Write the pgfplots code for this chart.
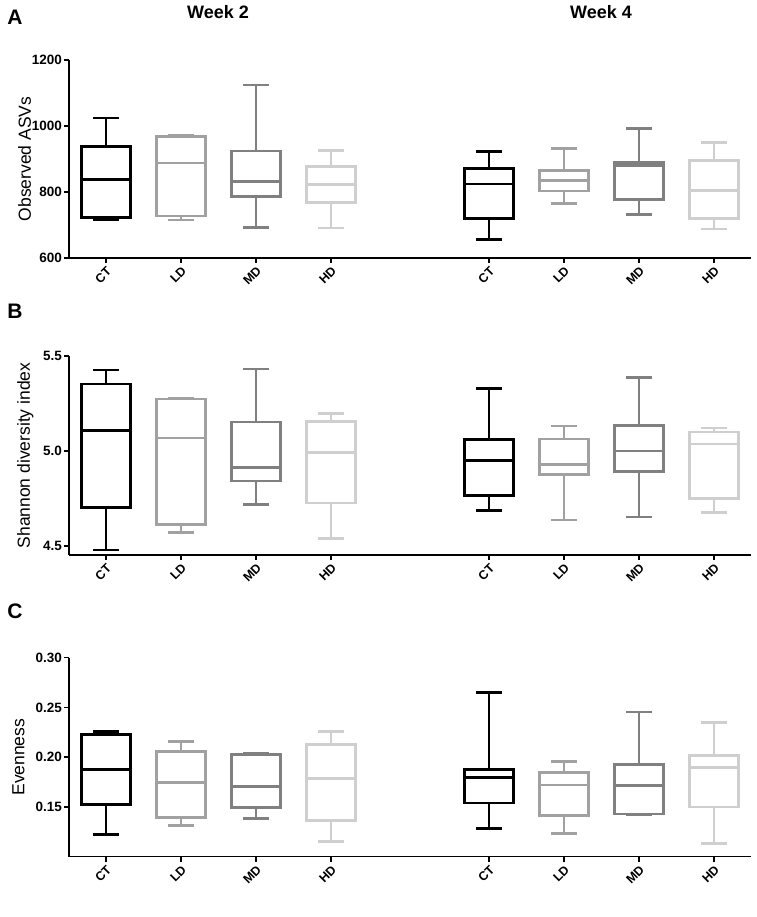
\documentclass[border=0pt]{standalone}
\usepackage{fontspec}
\setmainfont{Liberation Sans}
\usepackage{pgfplots}
\pgfplotsset{compat=1.18}
\definecolor{ctcol}{gray}{0.0}
\definecolor{ldcol}{gray}{0.63}
\definecolor{mdcol}{gray}{0.5}
\definecolor{hdcol}{gray}{0.81}
% #1 colour, #2 position, #3 min, #4 q1, #5 median, #6 q3, #7 max
\newcommand{\bx}[7]{%
 \pgfmathsetmacro\xl{#2-0.33}\pgfmathsetmacro\xr{#2+0.33}%
 \pgfmathsetmacro\wl{#2-0.15}\pgfmathsetmacro\wr{#2+0.15}%
 \edef\tmp{\noexpand\addplot[draw=#1, line width=2.8pt, line join=miter, line cap=rect, unbounded coords=jump, mark=none] coordinates {(\xl,#4) (\xr,#4) (\xr,#6) (\xl,#6) (\xl,#4) (nan,nan) (\xl,#5) (\xr,#5) (nan,nan) (#2,#4) (#2,#3) (nan,nan) (\wl,#3) (\wr,#3) (nan,nan) (#2,#6) (#2,#7) (nan,nan) (\wl,#7) (\wr,#7)};}%
 \tmp}
\pgfplotsset{
  panel/.style={
    scale only axis, width=682pt,
    axis lines=left, axis line style={-, line width=1.6pt},
    xmin=-0.493, xmax=8.6,
    xtick={0,1,2,3,5.107,6.107,7.107,8.107},
    xticklabels={CT,LD,MD,HD,CT,LD,MD,HD},
    tick align=outside, major tick length=5pt,
    tick style={line width=1.6pt, black},
    xticklabel style={rotate=45, anchor=north east, font=\fontsize{12.5}{14}\selectfont\bfseries, inner sep=2pt},
    yticklabel style={font=\fontsize{13.5}{15}\selectfont\bfseries, inner sep=2pt},
    /pgf/number format/assume math mode=true,
    ylabel style={font=\fontsize{17.5}{19}\selectfont, anchor=center},
    clip=false,
  }
}
\begin{document}
\begin{tikzpicture}
\path[use as bounding box] (0pt,0pt) rectangle (756pt,917pt);
% Panel A
\begin{axis}[panel, at={(69pt,659pt)}, anchor=south west, height=198pt,
  ymin=600, ymax=1200, ytick={600,800,1000,1200},
  yticklabel style={/pgf/number format/1000 sep={}},
  ylabel={Observed ASVs}, ylabel style={at={(axis description cs:-0.065,0.5)}}]
\bx{ctcol}{0}{716}{722}{838}{937}{1024}
\bx{ldcol}{1}{715}{727}{888}{968}{970}
\bx{mdcol}{2}{692}{786}{831}{924}{1124}
\bx{hdcol}{3}{691}{768}{823}{877}{925}
\bx{ctcol}{5.107}{655}{720}{824}{871}{923}
\bx{ldcol}{6.107}{765}{803}{836}{866}{932}
\bx{mdcol}{7.107}{731}{777}{880}{890}{993}
\bx{hdcol}{8.107}{688}{719}{805}{895}{949}
\end{axis}
% Panel B
\begin{axis}[panel, at={(69pt,362pt)}, anchor=south west, height=199pt,
  ymin=4.4526, ymax=5.5, ytick={4.5,5.0,5.5},
  yticklabel style={/pgf/number format/.cd, fixed, fixed zerofill, precision=1},
  ylabel={Shannon diversity index}, ylabel style={at={(axis description cs:-0.064,0.5)}}]
\bx{ctcol}{0}{4.479}{4.704}{5.109}{5.353}{5.426}
\bx{ldcol}{1}{4.570}{4.611}{5.068}{5.274}{5.275}
\bx{mdcol}{2}{4.719}{4.842}{4.912}{5.153}{5.432}
\bx{hdcol}{3}{4.540}{4.726}{4.993}{5.156}{5.198}
\bx{ctcol}{5.107}{4.686}{4.767}{4.949}{5.060}{5.328}
\bx{ldcol}{6.107}{4.637}{4.875}{4.930}{5.063}{5.132}
\bx{mdcol}{7.107}{4.653}{4.891}{5.000}{5.133}{5.386}
\bx{hdcol}{8.107}{4.675}{4.751}{5.037}{5.100}{5.121}
\end{axis}
% Panel C
\begin{axis}[panel, at={(69pt,60.3pt)}, anchor=south west, height=199pt,
  ymin=0.10, ymax=0.30, ytick={0.15,0.20,0.25,0.30},
  yticklabel style={/pgf/number format/.cd, fixed, fixed zerofill, precision=2},
  ylabel={Evenness}, ylabel style={at={(axis description cs:-0.074,0.5)}}]
\bx{ctcol}{0}{0.1223}{0.1527}{0.1877}{0.2225}{0.2255}
\bx{ldcol}{1}{0.1313}{0.1390}{0.1744}{0.2058}{0.2155}
\bx{mdcol}{2}{0.1380}{0.1497}{0.1704}{0.2028}{0.2038}
\bx{hdcol}{3}{0.1149}{0.1366}{0.1787}{0.2131}{0.2255}
\bx{ctcol}{5.107}{0.1280}{0.1540}{0.1797}{0.1874}{0.2652}
\bx{ldcol}{6.107}{0.1233}{0.1417}{0.1720}{0.1847}{0.1958}
\bx{mdcol}{7.107}{0.1420}{0.1430}{0.1714}{0.1928}{0.2455}
\bx{hdcol}{8.107}{0.1129}{0.1500}{0.1900}{0.2014}{0.2348}
\end{axis}
% Titles and panel letters
\node[font=\fontsize{18}{20}\selectfont\bfseries] at (218pt,905pt) {Week 2};
\node[font=\fontsize{18}{20}\selectfont\bfseries] at (601pt,905pt) {Week 4};
\node[font=\fontsize{21}{23}\selectfont\bfseries] at (15pt,900pt) {A};
\node[font=\fontsize{21}{23}\selectfont\bfseries] at (15pt,606pt) {B};
\node[font=\fontsize{21}{23}\selectfont\bfseries] at (15pt,305.5pt) {C};
\end{tikzpicture}
\end{document}
